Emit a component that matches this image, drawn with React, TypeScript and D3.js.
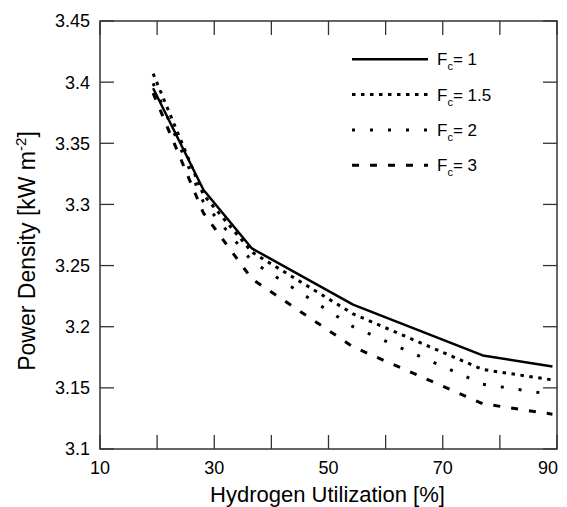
import React from "react";
import * as d3 from "d3";

// values
const utilization = [19.3, 28.1, 36.6, 54.3, 77, 89.2];
const fc1 = [3.395, 3.312, 3.264, 3.218, 3.1765, 3.1675];
const fc15 = [3.407, 3.308, 3.261, 3.2105, 3.165, 3.1565];
const fc2 = [3.399, 3.302, 3.2535, 3.2, 3.153, 3.1445];
const fc3 = [3.391, 3.293, 3.239, 3.1835, 3.137, 3.1285];

const seriesLabels = ["1", "1.5", "2", "3"];
const seriesValues = [fc1, fc15, fc2, fc3];
const dashes = ["", "3.5,5.5", "3,15", "7,11"];
const widths = [2.5, 3, 3, 3];

const xTicks = [10, 20, 30, 40, 50, 60, 70, 80, 90];
const xTickLabels = [10, 30, 50, 70, 90];
const yTicks = [3.1, 3.15, 3.2, 3.25, 3.3, 3.35, 3.4, 3.45];

const W = 567;
const H = 507;
const margin = { left: 100, right: 10, top: 21, bottom: 58 };
const font = "Arial, 'Liberation Sans', sans-serif";

export default function App() {
  const x = d3
    .scaleLinear()
    .domain([10, 90])
    .range([margin.left, W - margin.right]);
  const y = d3
    .scaleLinear()
    .domain([3.1, 3.45])
    .range([H - margin.bottom, margin.top]);

  const line = d3
    .line<[number, number]>()
    .x(d => x(d[0]))
    .y(d => y(d[1]));

  const x0 = x(10);
  const x1 = x(90);
  const y0 = y(3.1);
  const y1 = y(3.45);
  const tick = 14;
  const frame = "#333";

  return (
    <svg
      width={W}
      height={H}
      style={{ position: "absolute", left: 0, top: 0, background: "#fff" }}
    >
      {/* curves */}
      {seriesValues.map((vals, i) => (
        <path
          key={i}
          d={line(utilization.map((u, j) => [u, vals[j]]) as [number, number][]) || ""}
          fill="none"
          stroke="#000"
          strokeWidth={widths[i]}
          strokeDasharray={dashes[i]}
          strokeLinejoin="round"
        />
      ))}

      {/* ticks */}
      {xTicks.map(t => (
        <g key={"xt" + t} stroke={frame} strokeWidth={1.3}>
          <line x1={x(t)} x2={x(t)} y1={y0} y2={y0 - tick} />
          <line x1={x(t)} x2={x(t)} y1={y1} y2={y1 + tick} />
        </g>
      ))}
      {yTicks.map(t => (
        <g key={"yt" + t} stroke={frame} strokeWidth={1.3}>
          <line x1={x0} x2={x0 + tick} y1={y(t)} y2={y(t)} />
          <line x1={x1} x2={x1 - tick} y1={y(t)} y2={y(t)} />
        </g>
      ))}

      {/* frame */}
      <rect
        x={x0}
        y={y1}
        width={x1 - x0}
        height={y0 - y1}
        fill="none"
        stroke={frame}
        strokeWidth={1.5}
      />

      {/* tick labels */}
      {yTicks.map(t => (
        <text
          key={"yl" + t}
          x={x0 - 10}
          y={y(t)}
          dy="0.36em"
          textAnchor="end"
          fontFamily={font}
          fontSize={18}
          fill="#000"
        >
          {t}
        </text>
      ))}
      {xTickLabels.map((t, i) => (
        <text
          key={"xl" + t}
          x={i === xTickLabels.length - 1 ? x(t) + 1 : x(t)}
          y={474}
          textAnchor={i === xTickLabels.length - 1 ? "end" : "middle"}
          fontFamily={font}
          fontSize={18}
          fill="#000"
        >
          {t}
        </text>
      ))}

      {/* axis titles */}
      <text
        x={(x0 + x1) / 2 - 1}
        y={502}
        textAnchor="middle"
        fontFamily={font}
        fontSize={22}
        fill="#000"
      >
        Hydrogen Utilization [%]
      </text>
      <text
        transform={`translate(35, 251) rotate(-90)`}
        textAnchor="middle"
        fontFamily={font}
        fontSize={23}
        fill="#000"
      >
        Power Density [kW m
        <tspan dy={-9} fontSize={15}>
          -2
        </tspan>
        <tspan dy={9}>]</tspan>
      </text>

      {/* legend */}
      {seriesLabels.map((lab, i) => {
        const ly = 59.3 + i * 35.3;
        return (
          <g key={"lg" + i}>
            <line
              x1={352}
              x2={428}
              y1={ly}
              y2={ly}
              stroke="#000"
              strokeWidth={widths[i]}
              strokeDasharray={dashes[i]}
            />
            <text
              x={437}
              y={ly + 6}
              fontFamily={font}
              fontSize={17}
              fill="#000"
            >
              F
              <tspan dy={5} fontSize={11}>
                c
              </tspan>
              <tspan dy={-5}>{"= " + lab}</tspan>
            </text>
          </g>
        );
      })}
    </svg>
  );
}
